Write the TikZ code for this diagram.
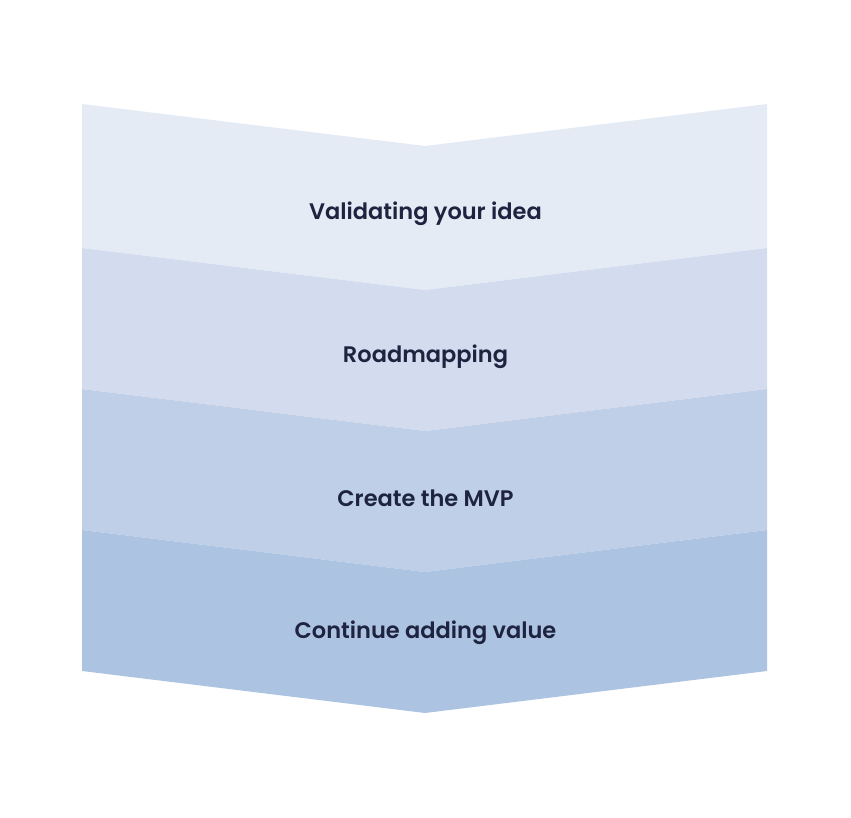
\documentclass[tikz,border=0pt]{standalone}
\usepackage{fontspec}
\setmainfont{Poppins}[BoldFont={Poppins SemiBold}]
\definecolor{bandA}{HTML}{E5EBF5}
\definecolor{bandB}{HTML}{D3DCEE}
\definecolor{bandC}{HTML}{BFCFE7}
\definecolor{bandD}{HTML}{ADC3E2}
\definecolor{txt}{HTML}{1E2440}
\tikzset{
  band/.style={draw=none},
  lbl/.style={text=txt, font=\fontsize{22.5}{26}\selectfont\bfseries, anchor=base, inner sep=0pt}
}
\begin{document}
\begin{tikzpicture}[x=1pt,y=-1pt]
\useasboundingbox (0,0) rectangle (851,817);
\fill[band, bandA] (82,104) -- (425,146) -- (767,104) -- (767,248) -- (425,290) -- (82,248) -- cycle;
\fill[band, bandB] (82,248) -- (425,290) -- (767,248) -- (767,389) -- (425,431) -- (82,389) -- cycle;
\fill[band, bandC] (82,389) -- (425,431) -- (767,389) -- (767,530) -- (425,572) -- (82,530) -- cycle;
\fill[band, bandD] (82,530) -- (425,572) -- (767,530) -- (767,671) -- (425,713) -- (82,671) -- cycle;
\node[lbl] (s1) at (425.5,219.5) {Validating your idea};
\node[lbl] (s2) at (425.5,362.5) {Roadmapping};
\node[lbl] (s3) at (425.5,506.5) {Create the MVP};
\node[lbl] (s4) at (425.5,638.5) {Continue adding value};
\end{tikzpicture}
\end{document}
